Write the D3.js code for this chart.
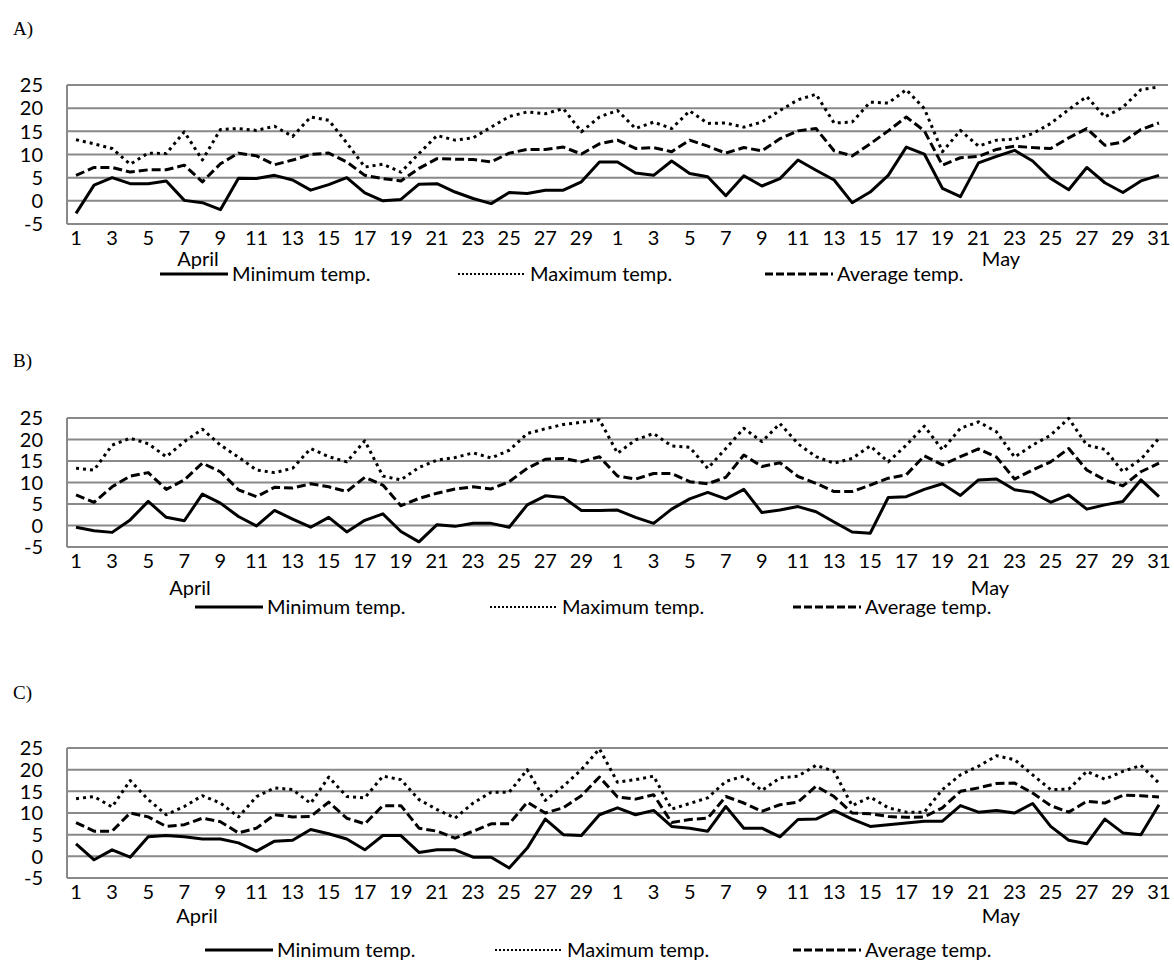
<!DOCTYPE html>
<html><head><meta charset="utf-8">
<script src="https://cdn.jsdelivr.net/npm/d3@7"></script>
<style>body{margin:0;background:#fff}</style></head>
<body>
<svg id="chart" width="1174" height="969"></svg>
<script>
// Categories: April 1..30, May 1..31
const dayLabels = [1,2,3,4,5,6,7,8,9,10,11,12,13,14,15,16,17,18,19,20,21,22,23,24,25,26,27,28,29,30,
  1,2,3,4,5,6,7,8,9,10,11,12,13,14,15,16,17,18,19,20,21,22,23,24,25,26,27,28,29,30,31];
const monthLabels = ["April","May"];
const yTicks = [-5,0,5,10,15,20,25];
const seriesNames = ["Minimum temp.","Maximum temp.","Average temp."];
const panelNames = ["A)","B)","C)"];

const minA = [-2.7,3.4,5.0,3.7,3.7,4.3,0.1,-0.4,-1.9,4.9,4.8,5.5,4.5,2.3,3.5,5.0,1.7,0.0,0.3,3.6,3.7,1.9,0.5,-0.6,1.8,1.6,2.3,2.3,4.1,8.4,
  8.4,6.0,5.5,8.6,5.9,5.2,1.1,5.4,3.2,4.8,8.8,6.6,4.5,-0.4,1.9,5.5,11.6,10.1,2.7,0.9,8.2,9.6,10.9,8.6,4.8,2.4,7.2,3.9,1.8,4.3,5.5];
const maxA = [13.2,12.3,11.3,7.9,10.3,10.2,14.9,8.8,15.4,15.6,15.2,16.1,13.9,18.1,17.4,12.5,7.3,7.9,6.2,10.2,14.1,13.1,13.6,15.9,18.2,19.2,18.8,19.9,14.9,18.1,
  19.5,15.6,17.0,15.6,19.4,16.7,16.8,15.9,17.0,19.5,21.8,23.0,16.8,17.0,21.3,21.1,24.0,19.9,10.6,15.2,11.8,13.1,13.3,14.5,16.7,19.7,22.5,18.1,20.2,24.0,24.6];
const avgA = [5.5,7.2,7.2,6.2,6.7,6.7,7.7,4.1,8.0,10.3,9.7,7.8,8.8,10.0,10.3,8.4,5.5,4.8,4.3,7.0,9.1,9.0,8.9,8.4,10.3,11.1,11.1,11.6,10.1,12.3,
  13.1,11.3,11.5,10.6,13.1,11.8,10.3,11.5,10.8,13.4,15.1,15.6,10.8,9.7,12.3,15.1,18.1,15.1,7.7,9.3,9.6,11.1,11.8,11.5,11.3,13.6,15.6,12.0,12.7,15.4,16.8];

const minB = [-0.4,-1.2,-1.6,1.3,5.6,1.9,1.1,7.3,5.2,2.1,-0.1,3.5,1.5,-0.4,1.9,-1.5,1.2,2.7,-1.4,-3.8,0.2,-0.2,0.5,0.5,-0.4,4.8,6.9,6.5,3.5,3.5,
  3.6,1.9,0.5,3.8,6.2,7.7,6.2,8.4,3.0,3.6,4.4,3.2,0.8,-1.5,-1.8,6.5,6.7,8.4,9.7,7.0,10.6,10.8,8.3,7.7,5.4,7.1,3.8,4.8,5.6,10.6,6.7];
const maxB = [13.3,12.9,18.7,20.3,19.0,16.0,19.5,22.4,18.7,15.9,12.9,12.3,13.3,17.9,16.0,14.8,19.7,11.5,10.6,13.5,15.2,15.8,16.9,15.7,17.5,21.4,22.5,23.5,24.0,24.6,
  16.8,19.9,21.4,18.5,18.2,13.3,17.9,22.6,19.5,23.7,19.0,16.0,14.5,15.6,18.5,14.8,18.7,23.1,17.6,22.6,24.1,21.8,15.9,18.7,21.0,24.9,18.7,17.7,12.5,15.4,20.3];
const avgB = [7.1,5.4,9.0,11.5,12.3,8.4,10.6,14.5,12.5,8.3,6.7,8.9,8.7,9.7,9.0,7.9,11.2,9.4,4.6,6.3,7.5,8.5,9.0,8.5,10.2,13.3,15.4,15.6,14.8,16.0,
  11.5,10.8,12.1,12.1,10.2,9.7,11.2,16.4,13.7,14.6,11.4,9.8,7.9,7.9,9.4,11.0,11.8,16.2,14.1,16.0,17.8,15.9,10.8,12.9,14.8,17.9,12.9,10.6,9.2,12.5,14.5];

const minC = [2.9,-0.8,1.5,-0.2,4.5,4.8,4.5,4.0,4.0,3.1,1.2,3.5,3.7,6.2,5.2,4.0,1.5,4.8,4.8,0.9,1.5,1.5,-0.2,-0.2,-2.7,1.9,8.6,5.0,4.8,9.6,
  11.2,9.6,10.6,6.9,6.5,5.8,11.5,6.5,6.5,4.5,8.5,8.6,10.6,8.6,6.9,7.3,7.7,8.1,8.1,11.7,10.2,10.6,10.0,12.2,6.9,3.7,2.9,8.6,5.4,5.0,11.9];
const maxC = [13.3,13.8,11.4,17.5,13.1,9.6,11.5,14.0,12.3,9.1,13.8,15.8,15.4,12.2,18.3,13.8,13.5,18.5,17.7,13.1,10.8,8.8,12.3,14.8,14.8,20.0,12.9,16.2,20.0,24.8,
  17.1,17.7,18.5,10.9,12.2,13.5,17.3,18.5,15.2,18.1,18.5,21.0,19.6,11.7,13.7,11.2,10.2,10.2,15.4,18.8,20.8,23.2,22.3,18.8,15.4,15.5,19.6,17.8,19.6,21.0,16.9];
const avgC = [7.8,5.8,5.8,10.0,9.1,6.9,7.3,8.8,8.0,5.4,6.5,9.6,9.1,9.2,12.5,8.8,7.5,11.7,11.7,6.5,5.8,4.2,5.8,7.5,7.5,12.5,10.0,11.2,14.0,18.3,
  13.7,13.2,14.2,7.8,8.5,8.8,13.8,12.3,10.4,11.9,12.5,16.2,13.8,10.0,9.8,9.2,9.0,9.1,11.2,15.0,15.8,16.8,16.9,14.6,11.7,10.2,12.7,12.3,14.1,14.0,13.7];

const panelData = [[minA,maxA,avgA],[minB,maxB,avgB],[minC,maxC,avgC]];

// layout (pixels)
const layout = [
  {label:28, top:85,  bottom:224, tick:238, month:259, legend:274, legX:[160,458,765], monthX:[198,1001]},
  {label:360, top:418, bottom:547, tick:561, month:588, legend:607, legX:[195,490,793], monthX:[190,990]},
  {label:692, top:748, bottom:878, tick:892, month:916, legend:950, legX:[205,495,793], monthX:[197,1001]}
];
const styles = [
  {dash:null},
  {dash:"3,4"},
  {dash:"9,4"}
];
const svg = d3.select("#chart");
const idx = d3.range(dayLabels.length);
const x = d3.scalePoint().domain(idx).range([67,1168]).padding(0.5);
const font = "Lato, 'Open Sans', sans-serif";

layout.forEach((L,p)=>{
  const g = svg.append("g");
  const y = d3.scaleLinear().domain([-5,25]).range([L.bottom,L.top]);
  g.append("text").attr("x",13).attr("y",L.label).attr("dy","0.35em")
    .attr("font-family","'Liberation Serif','Times New Roman',serif").attr("font-size",19).text(panelNames[p]);
  // grid
  g.selectAll("line.grid").data(yTicks).join("line").attr("class","grid")
    .attr("x1",67).attr("x2",1168).attr("y1",d=>y(d)).attr("y2",d=>y(d))
    .attr("stroke","#898989").attr("stroke-width",2);
  g.append("line").attr("x1",67).attr("x2",67).attr("y1",L.top).attr("y2",L.bottom)
    .attr("stroke","#898989").attr("stroke-width",2);
  // y tick labels
  g.selectAll("text.yt").data(yTicks).join("text").attr("class","yt")
    .attr("x",43).attr("y",d=>y(d)).attr("dy","0.36em").attr("text-anchor","end")
    .attr("font-family",font).attr("font-size",20).text(d=>d);
  // x tick labels (odd days)
  g.selectAll("text.xt").data(idx.filter(i=>dayLabels[i]%2===1)).join("text").attr("class","xt")
    .attr("x",i=>x(i)).attr("y",L.tick).attr("dy","0.36em").attr("text-anchor","middle")
    .attr("font-family",font).attr("font-size",20).text(i=>dayLabels[i]);
  monthLabels.forEach((m,k)=>{
    g.append("text").attr("x",L.monthX[k]).attr("y",L.month).attr("dy","0.36em").attr("text-anchor","middle")
      .attr("font-family",font).attr("font-size",20).text(m);
  });
  // series
  const line = d3.line().x((d,i)=>x(i)).y(d=>y(d));
  panelData[p].forEach((vals,s)=>{
    const path = g.append("path").datum(vals).attr("d",line).attr("fill","none")
      .attr("stroke","#000").attr("stroke-width",3).attr("stroke-linejoin","round");
    if(styles[s].dash) path.attr("stroke-dasharray",styles[s].dash);
  });
  // legend
  seriesNames.forEach((n,s)=>{
    const lx = L.legX[s];
    const ln = g.append("line").attr("x1",lx).attr("x2",lx+68).attr("y1",L.legend).attr("y2",L.legend)
      .attr("stroke","#000").attr("stroke-width",s===1?2:3);
    if(s===1) ln.attr("stroke-dasharray","2,2");
    if(s===2) ln.attr("stroke-dasharray","8,3");
    g.append("text").attr("x",lx+72).attr("y",L.legend).attr("dy","0.36em")
      .attr("font-family",font).attr("font-size",20).text(n);
  });
});
</script>
</body></html>
